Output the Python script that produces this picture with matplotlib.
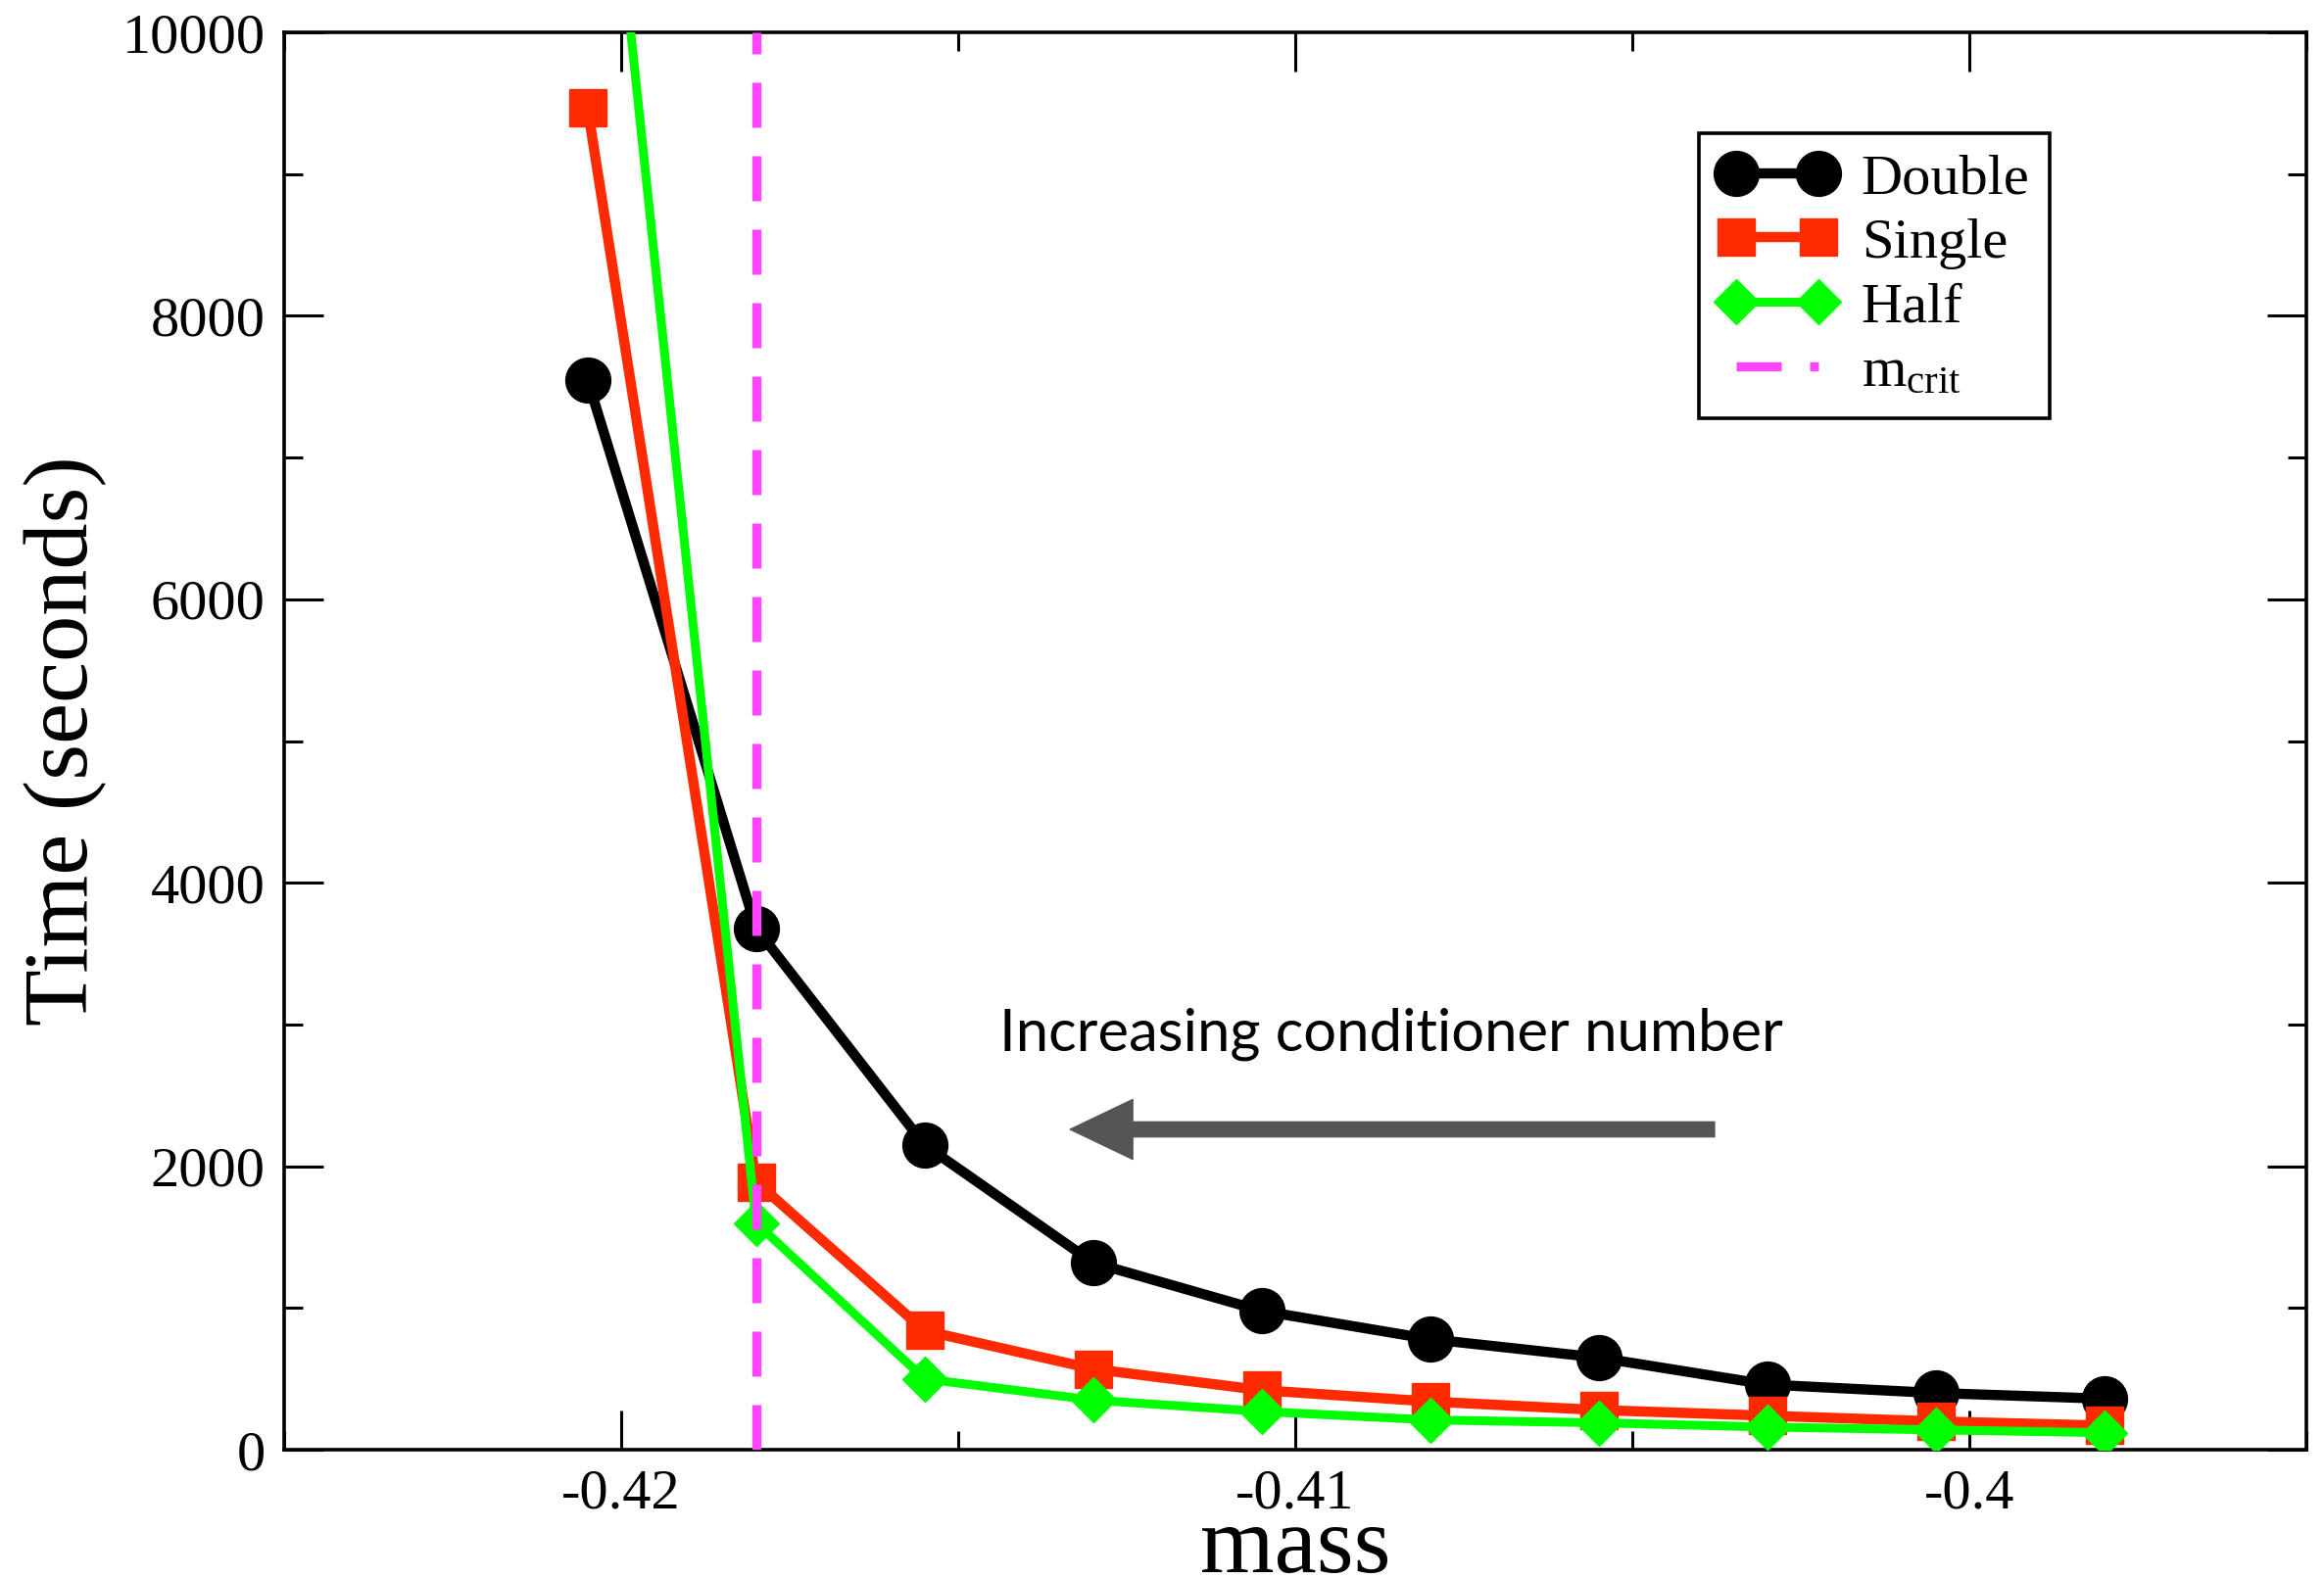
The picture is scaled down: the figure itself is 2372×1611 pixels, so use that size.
import matplotlib
matplotlib.use('Agg')
import matplotlib.pyplot as plt
from matplotlib.lines import Line2D
from matplotlib.ticker import MultipleLocator

# values
mass = [-0.4205, -0.418, -0.4155, -0.413, -0.4105, -0.408, -0.4055, -0.403, -0.4005, -0.398]
t_double = [7550, 3680, 2150, 1320, 980, 780, 650, 460, 400, 360]
t_single = [9470, 1890, 840, 570, 420, 340, 280, 240, 200, 170]
t_half = [12900, 1600, 500, 350, 270, 210, 190, 160, 140, 120]
m_crit = -0.418

RED = '#ff2a00'
GREEN = '#00ff00'
MAGENTA = '#ff44ff'

plt.rcParams['font.family'] = ['Liberation Serif', 'DejaVu Serif']
plt.rcParams['mathtext.fontset'] = 'custom'
plt.rcParams['mathtext.rm'] = 'Liberation Serif'
plt.rcParams['mathtext.it'] = 'Liberation Serif:italic'


def main():
    fig = plt.figure(figsize=(23.72, 16.11), dpi=100)
    ax = fig.add_axes([0.1223, 0.0813, 0.9924 - 0.1223, 0.9795 - 0.0813])

    lw = 7.5
    dash = (46 * 0.72 / 6.7, 29 * 0.72 / 6.7)
    ax.axvline(m_crit, color=MAGENTA, lw=6.7, linestyle=(0, dash), zorder=4)
    ax.plot(mass, t_double, color='black', lw=lw, marker='o', ms=33, zorder=3)
    ax.plot(mass, t_single, color=RED, lw=lw, marker='s', ms=28, zorder=3)
    ax.plot(mass, t_half, color=GREEN, lw=lw - 1, marker='D', ms=23, zorder=3)

    ax.set_xlim(-0.425, -0.395)
    ax.set_ylim(0, 10000)
    ax.xaxis.set_major_locator(MultipleLocator(0.01))
    ax.xaxis.set_minor_locator(MultipleLocator(0.005))
    ax.yaxis.set_major_locator(MultipleLocator(2000))
    ax.yaxis.set_minor_locator(MultipleLocator(1000))
    ax.set_xticks([-0.42, -0.41, -0.40])
    ax.set_xticklabels(['-0.42', '-0.41', '-0.4'])
    ax.tick_params(which='both', direction='in', top=True, right=True, width=2.2)
    ax.tick_params(which='major', length=29, labelsize=42, pad=14)
    ax.tick_params(which='minor', length=14)
    for s in ax.spines.values():
        s.set_linewidth(2.6)

    ax.set_xlabel('mass', fontsize=70, labelpad=-10)
    ax.set_ylabel('Time (seconds)', fontsize=68, labelpad=11)

    ax.annotate('', xy=(-0.41334, 2260), xytext=(-0.40378, 2260),
                arrowprops=dict(facecolor='#555555', edgecolor='#555555',
                                width=11, headwidth=44, headlength=46, shrink=0))
    ax.text(-0.40858, 2930, 'Increasing conditioner number', fontsize=43,
            family=['Lato', 'DejaVu Sans'], ha='center', va='center')

    handles = [
        Line2D([], [], color='black', lw=lw, marker='o', ms=33),
        Line2D([], [], color=RED, lw=lw, marker='s', ms=28),
        Line2D([], [], color=GREEN, lw=lw - 1, marker='D', ms=23),
        Line2D([], [], color=MAGENTA, lw=6.7, linestyle=(0, dash)),
    ]
    labels = ['Double', 'Single', 'Half', r'm$_{\mathrm{crit}}$']
    leg = fig.legend(handles, labels, loc='upper right',
                     bbox_to_anchor=(2092 / 2372, 1 - 136 / 1611),
                     fontsize=42, numpoints=2, handlelength=2.05,
                     handletextpad=0.45, labelspacing=0.22, borderpad=0.35,
                     borderaxespad=0, fancybox=False, framealpha=1,
                     edgecolor='black')
    leg.get_frame().set_linewidth(2.6)

    fig.savefig('out.png', dpi=100)


if __name__ == '__main__':
    main()
